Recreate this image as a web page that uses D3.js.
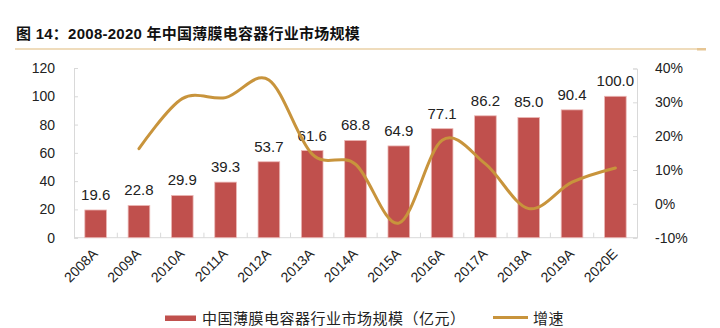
<!DOCTYPE html>
<html><head><meta charset="utf-8">
<script src="https://cdn.jsdelivr.net/npm/d3@7"></script>
<style>
body{margin:0;background:#fff;}
svg{display:block;}
</style></head>
<body>
<script>
const categories = ["2008A","2009A","2010A","2011A","2012A","2013A","2014A","2015A","2016A","2017A","2018A","2019A","2020E"];
const marketSize = [19.6,22.8,29.9,39.3,53.7,61.6,68.8,64.9,77.1,86.2,85.0,90.4,100.0];
const growth = [null,16.3,31.1,31.4,36.6,14.7,11.7,-5.7,18.8,11.8,-1.4,6.4,10.6];
const leftTicks = [0,20,40,60,80,100,120];
const rightTicks = [-10,0,10,20,30,40];
const titleText = "图 14：2008-2020 年中国薄膜电容器行业市场规模";
const legendBar = "中国薄膜电容器行业市场规模（亿元）";
const legendLine = "增速";

const W=720,H=328;
const L=74,R=637,T=68,B=237.7;
const svg=d3.select("body").append("svg").attr("width",W).attr("height",H);
const sans="'Liberation Sans', Arial, 'Noto Sans CJK SC', sans-serif";
const cjk="'Liberation Sans','Noto Sans CJK SC', sans-serif";

// title
svg.append("text").attr("x",16).attr("y",39).attr("font-family",cjk).attr("font-weight","bold")
  .attr("font-size",15).attr("letter-spacing",0.25).attr("fill","#111").text(titleText);
svg.append("line").attr("x1",15).attr("x2",706).attr("y1",49).attr("y2",49)
  .attr("stroke","#EAD0A6").attr("stroke-width",1.5);
svg.append("rect").attr("x",697).attr("y",48).attr("width",9).attr("height",2.5).attr("fill","#E6C593");

const x=d3.scaleBand().domain(categories).range([L,R]).paddingInner(0.5).paddingOuter(0.25);
const xb=d3.scaleBand().domain(categories).range([L,R]);
const yL=d3.scaleLinear().domain([0,120]).range([B,T]);
const yR=d3.scaleLinear().domain([-10,40]).range([B,T+0.5]);

const axisColor="#d9d9d9";
// left axis
const gl=svg.append("g").attr("transform",`translate(${L},0)`)
  .call(d3.axisLeft(yL).tickValues(leftTicks).tickSize(-4).tickPadding(19));
gl.select(".domain").attr("stroke",axisColor);
gl.selectAll(".tick line").attr("stroke",axisColor);
gl.selectAll(".tick text").attr("font-family",sans).attr("font-size",14).attr("fill","#222");
// right axis
const gr=svg.append("g").attr("transform",`translate(${R},0)`)
  .call(d3.axisRight(yR).tickValues(rightTicks).tickSize(-4).tickPadding(18).tickFormat(d=>d+"%"));
gr.select(".domain").attr("stroke",axisColor);
gr.selectAll(".tick line").attr("stroke",axisColor);
gr.selectAll(".tick text").attr("font-family",sans).attr("font-size",14).attr("fill","#222");

// bottom axis line and separators
svg.append("line").attr("x1",L).attr("x2",R).attr("y1",B).attr("y2",B).attr("stroke",axisColor);
svg.selectAll(".sep").data(categories.slice(1)).join("line")
  .attr("x1",d=>xb(d)).attr("x2",d=>xb(d)).attr("y1",B).attr("y2",B-5).attr("stroke",axisColor);

// bars
svg.selectAll(".bar").data(marketSize).join("rect")
  .attr("x",(d,i)=>x(categories[i])).attr("width",x.bandwidth())
  .attr("y",d=>yL(d)).attr("height",d=>B-yL(d))
  .attr("fill","#C0504D").attr("stroke","#EBB8B6").attr("stroke-width",0.8);

// bar labels
svg.selectAll(".lbl").data(marketSize).join("text")
  .attr("x",(d,i)=>xb(categories[i])+xb.bandwidth()/2)
  .attr("y",d=>yL(d)-10).attr("text-anchor","middle")
  .attr("font-family",sans).attr("font-size",15).attr("fill","#222")
  .text(d=>d.toFixed(1));

// growth line
const pts=growth.map((g,i)=>[xb(categories[i])+xb.bandwidth()/2,g]).filter(p=>p[1]!==null);
const line=d3.line().x(d=>d[0]).y(d=>yR(d[1])).curve(d3.curveCardinal.tension(0));
svg.append("path").datum(pts).attr("d",line).attr("fill","none")
  .attr("stroke","#C8943C").attr("stroke-width",3).attr("stroke-linecap","round");

// x labels
svg.selectAll(".xl").data(categories).join("text")
  .attr("transform",d=>`translate(${xb(d)+xb.bandwidth()/2+3},${B+17}) rotate(-45)`)
  .attr("text-anchor","end").attr("font-family",sans).attr("font-size",14).attr("fill","#222")
  .text(d=>d);

// legend
svg.append("rect").attr("x",165).attr("y",315.5).attr("width",31).attr("height",5.5).attr("fill","#C0504D");
svg.append("text").attr("x",202).attr("y",323.5).attr("font-family",cjk).attr("font-size",15).attr("letter-spacing",0.5).attr("fill","#222").text(legendBar);
svg.append("line").attr("x1",493).attr("x2",528).attr("y1",317.5).attr("y2",317.5).attr("stroke","#C8943C").attr("stroke-width",3);
svg.append("text").attr("x",533).attr("y",323.5).attr("font-family",cjk).attr("font-size",15).attr("letter-spacing",0.5).attr("fill","#222").text(legendLine);
</script>
</body></html>
